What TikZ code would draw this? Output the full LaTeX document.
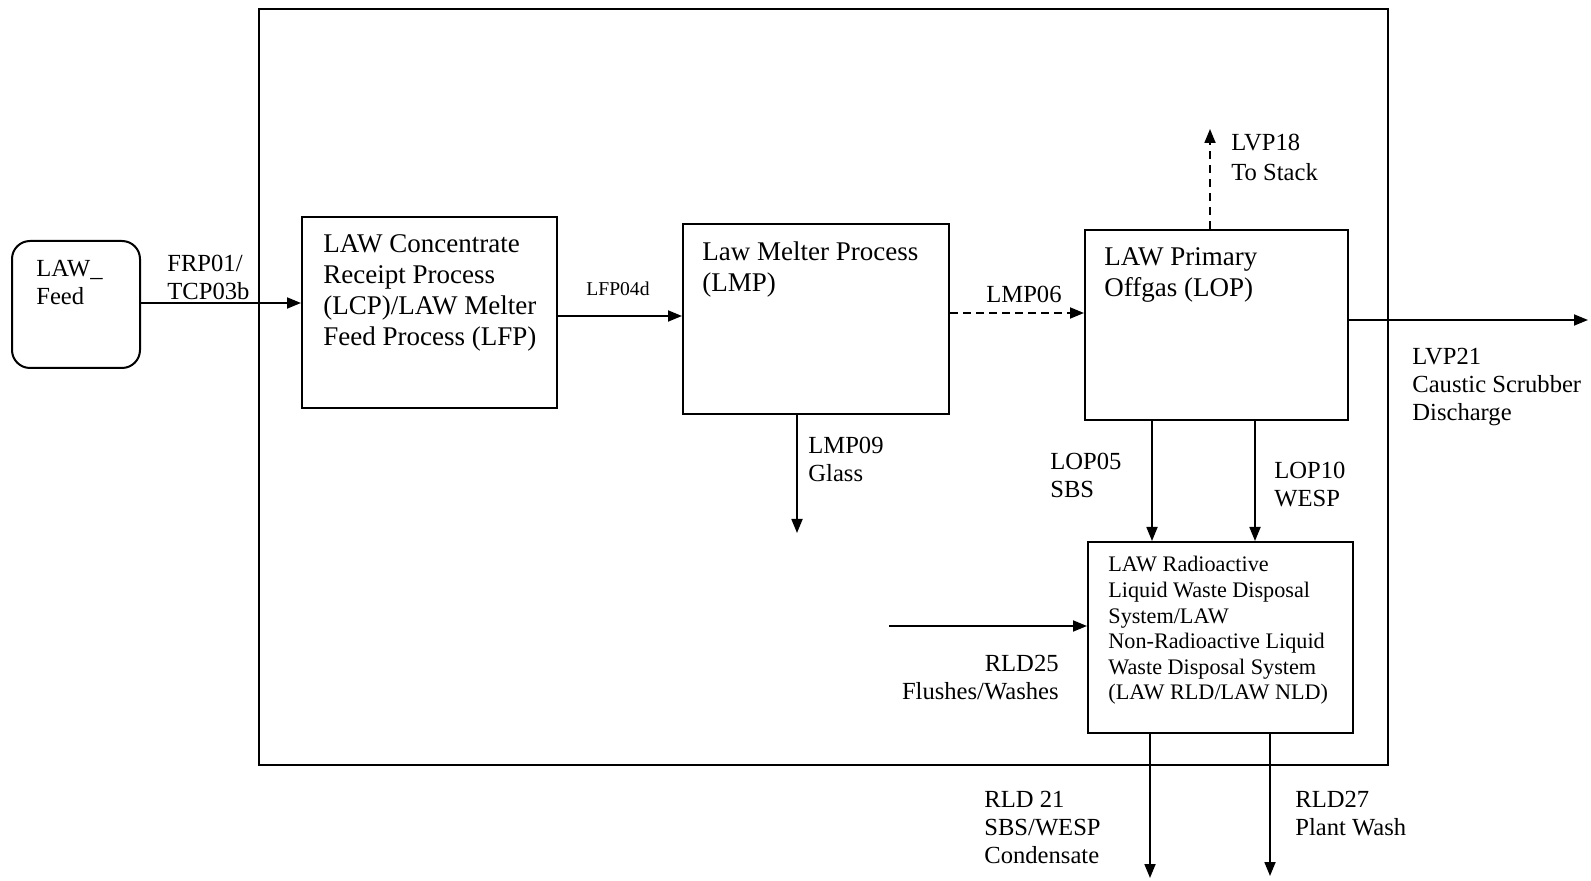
\documentclass[tikz,border=0pt]{standalone}
\usepackage{fontspec}
\setmainfont{Liberation Serif}
\usetikzlibrary{arrows.meta,positioning}
\tikzset{
  every picture/.style={line join=miter},
  frame/.style={draw,line width=1.2pt},
  procbox/.style={draw,line width=1pt,inner sep=0pt},
  feedbox/.style={procbox,rounded corners=9pt},
  flow/.style={-{Triangle[length=7pt,width=5.5pt]},line width=.9pt},
  gasflow/.style={flow,dash pattern=on 4pt off 2.5pt},
  stackflow/.style={flow,dash pattern=on 4pt off 3pt},
  boxtxt/.style={font=\fontsize{13.5}{15.5}\selectfont,align=left,
    inner sep=0pt,anchor=north west},
  rldtxt/.style={font=\fontsize{11.1}{12.8}\selectfont,align=left,
    inner sep=0pt,anchor=north west},
  lab/.style={font=\fontsize{12.3}{14}\selectfont,align=left,
    inner sep=0pt,anchor=north west},
  smalllab/.style={font=\fontsize{9.8}{11}\selectfont,inner sep=0pt}
}

\begin{document}
\begin{tikzpicture}[x=.5pt,y=-.5pt]
  \useasboundingbox (0,0) rectangle (1591,881);

  % The plant boundary and the process blocks.
  \draw[frame] (259,9) rectangle (1388,765);
  \node[feedbox,minimum width=64pt,minimum height=63.5pt] (feed) at (76,304.5) {};
  \node[procbox,minimum width=127.5pt,minimum height=95.5pt] (lcp) at (429.5,312.5) {};
  \node[procbox,minimum width=133pt,minimum height=95pt] (lmp) at (816,319) {};
  \node[procbox,minimum width=131.5pt,minimum height=95pt] (lop) at (1216.5,325) {};
  \node[procbox,minimum width=132.5pt,minimum height=95.5pt] (rld) at (1220.5,637.5) {};
  \node[lab] (feedtxt) at (36,260) {LAW\_\\Feed};
  \node[boxtxt] (lcptxt) at (323,234)
    {LAW Concentrate\\Receipt Process\\(LCP)/LAW Melter\\Feed Process (LFP)};
  \node[boxtxt] (lmptxt) at (702,241) {Law Melter Process\\(LMP)};
  \node[boxtxt] (loptxt) at (1104,247) {LAW Primary\\Offgas (LOP)};
  \node[rldtxt] (rldtxt) at (1108,556)
    {LAW Radioactive\\Liquid Waste Disposal\\System/LAW\\
     Non-Radioactive Liquid\\Waste Disposal System\\(LAW RLD/LAW NLD)};

  % Loose ends of the streams leaving or entering the boundary.
  \coordinate (stack) at (1210,129);
  \coordinate (scrub) at (1588,320);
  \coordinate (glass) at (797,533);
  \coordinate (flush) at (889,626);
  \coordinate (cond) at (1150,878);
  \coordinate (wash) at (1270,876);

  % Streams.
  \draw[flow] (feed.east |- 0,303) -- (lcp.west |- 0,303);
  \draw[flow] (lcp.east |- 0,316) -- (lmp.west |- 0,316);
  \draw[gasflow] (lmp.east |- 0,313) -- (lop.west |- 0,313);
  \draw[stackflow] (lop.north -| stack) -- (stack);
  \draw[flow] (lop.east |- scrub) -- (scrub);
  \draw[flow] (lmp.south -| glass) -- (glass);
  \draw[flow] (lop.south -| 1152,0) -- (rld.north -| 1152,0);
  \draw[flow] (lop.south -| 1255,0) -- (rld.north -| 1255,0);
  \draw[flow] (flush) -- (rld.west |- flush);
  \draw[flow] (rld.south -| cond) -- (cond);
  \draw[flow] (rld.south -| wash) -- (wash);

  % Stream labels.
  \node[lab] (frp) at (167,255) {FRP01/\\TCP03b};
  \node[smalllab] (lfp) at (618,289) {LFP04d};
  \node[lab,anchor=center] (lmp06) at (1024,294) {LMP06};
  \node[lab,font=\fontsize{12.3}{15}\selectfont] (lvp18) at (1231,134)
    {LVP18\\To Stack};
  \node[lab] (lvp21) at (1412,348) {LVP21\\Caustic Scrubber\\Discharge};
  \node[lab] (lmp09) at (808,437) {LMP09\\Glass};
  \node[lab] (lop05) at (1050,453) {LOP05\\SBS};
  \node[lab] (lop10) at (1274,462) {LOP10\\WESP};
  \node[lab,anchor=north east,align=right] (rld25) at (1059,655)
    {RLD25\\Flushes/Washes};
  \node[lab] (rld21) at (984,791) {RLD 21\\SBS/WESP\\Condensate};
  \node[lab] (rld27) at (1295,791) {RLD27\\Plant Wash};
\end{tikzpicture}
\end{document}
